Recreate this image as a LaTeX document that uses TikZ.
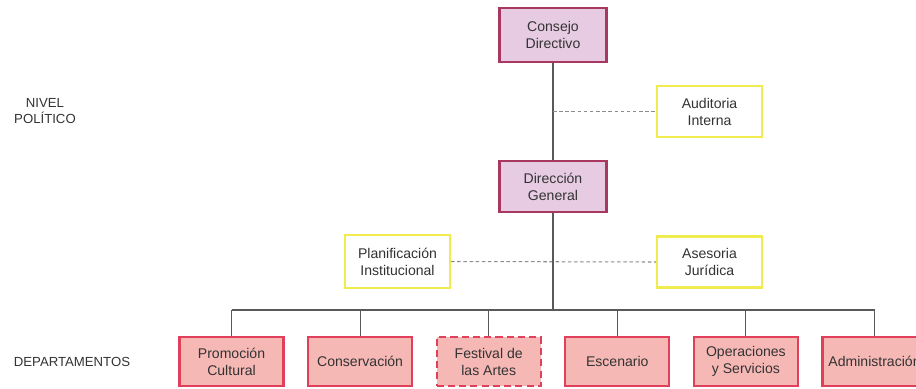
\documentclass[tikz,border=0pt]{standalone}
\usepackage{fontspec}
\setmainfont{Liberation Sans}
\usetikzlibrary{positioning}
\definecolor{directivafill}{HTML}{E6CBE3}
\definecolor{directivadraw}{HTML}{A8385F}
\definecolor{deptofill}{HTML}{F6B8B5}
\definecolor{deptodraw}{HTML}{E0405A}
\definecolor{staffdraw}{HTML}{F0EC50}
\definecolor{texto}{HTML}{333333}
\tikzset{node distance=2.572cm, auto,
  caja/.style={rectangle, minimum width=2.1cm, minimum height=1.02cm, align=center,
    font=\fontsize{8}{9.7}\selectfont, text=texto, line width=1.2pt, inner sep=1pt},
  directiva/.style={caja, draw=directivadraw, fill=directivafill, minimum width=2.14cm},
  staff/.style={caja, draw=staffdraw, fill=white},
  depto/.style={caja, draw=deptodraw, fill=deptofill, minimum width=2.08cm, minimum height=0.98cm},
  nivel/.style={font=\fontsize{7.5}{9}\selectfont, align=center, text=texto},
  linea/.style={draw=black!65, line width=0.6pt},
  punteada/.style={draw=black!45, line width=0.6pt, dash pattern=on 2pt off 1.5pt}}

\begin{document}
\begin{tikzpicture}
          \useasboundingbox (0,0) rectangle (18.32,-7.76);
          % niveles
          \node[nivel] (politico) at (0.9,-2.22) {NIVEL\\POLÍTICO};
          \node[nivel] (departamentos) at (1.44,-7.24) {DEPARTAMENTOS};
          % nivel politico
          \node[directiva, minimum height=1.08cm] (consejo) at (11.06,-0.70) {Consejo\\Directivo};
          \node[directiva] (direccion) at (11.06,-3.73) {Dirección\\General};
          \node[staff] (auditoria) at (14.19,-2.23) {Auditoria\\Interna};
          \node[staff, minimum height=1.05cm] (planificacion) at (7.95,-5.23) {Planificación\\Institucional};
          \node[staff] (asesoria) at (14.19,-5.24) {Asesoria\\Jurídica};
          % departamentos
          \node[depto] (promocion) at (4.63,-7.23) {Promoción\\Cultural};
          \node[depto] (conservacion) [right of=promocion] {Conservación};
          \node[depto, dash pattern=on 4pt off 2.4pt] (festival) [right of=conservacion] {Festival de\\las Artes};
          \node[depto] (escenario) [right of=festival] {Escenario};
          \node[depto] (operaciones) [right of=escenario] {Operaciones\\y Servicios};
          \node[depto] (administracion) [right of=operaciones] {Administración};
          % lineas
          \draw[linea] (consejo) -- (direccion);
          \draw[punteada] (consejo.south |- auditoria.west) -- (auditoria.west);
          \draw[punteada] (planificacion.east) -- (asesoria.west);
          \draw[linea] (direccion.south) -- (direccion.south |- 0,-6.2) coordinate (bus);
          \draw[linea] (promocion.north |- bus) -- (administracion.north |- bus);
          \foreach \d in {promocion,conservacion,festival,escenario,operaciones,administracion}
            \draw[linea] (\d.north) -- (\d.north |- bus);
        \end{tikzpicture}
\end{document}
